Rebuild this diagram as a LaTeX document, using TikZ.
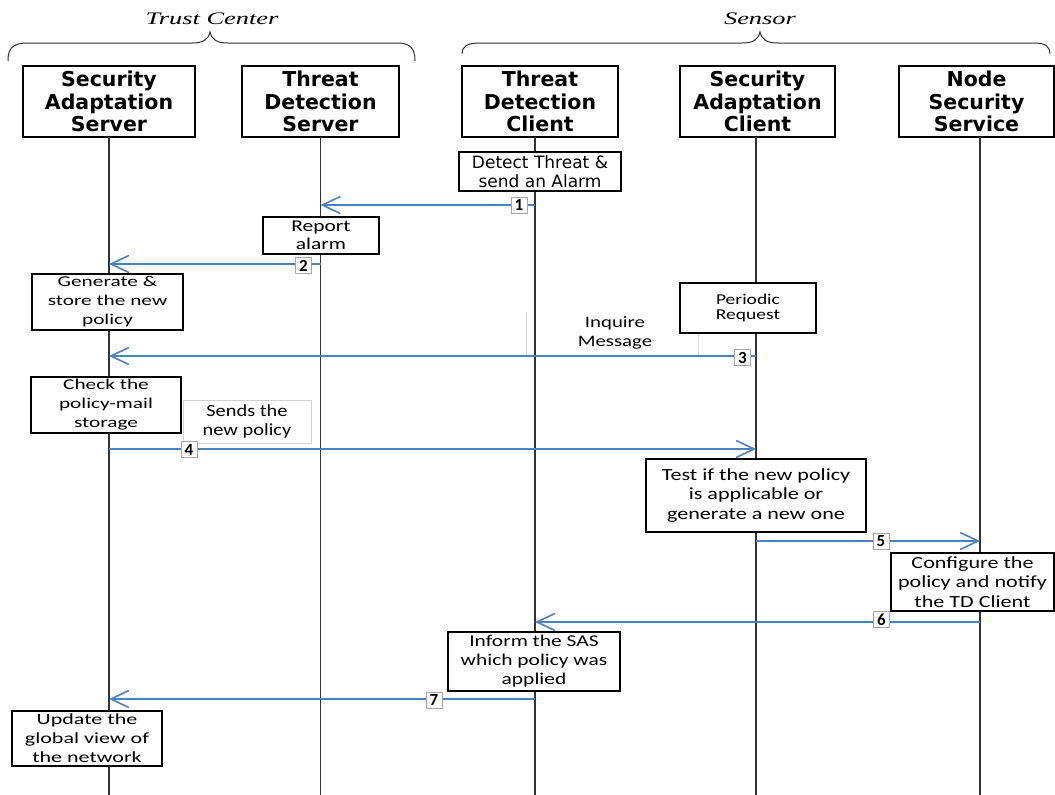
\documentclass[tikz,border=0pt]{standalone}
\usepackage{fontspec}
\setmainfont{Carlito}
\newfontfamily\dvf{DejaVu Sans}
\newfontfamily\calN{Carlito}
\newfontfamily\calS[FakeStretch=1.2]{Carlito}
\newfontfamily\calW[FakeStretch=1.3]{Carlito}
\newfontfamily\calX[FakeStretch=1.42]{Carlito}
\newfontfamily\tcf[FakeStretch=1.5]{Liberation Serif}
\usetikzlibrary{arrows.meta}
\definecolor{arrowblue}{HTML}{4F81BD}
\newcommand{\fsz}[2]{\fontsize{#1}{#2}\selectfont}
\begin{document}
\begin{tikzpicture}[x=1pt,y=-1pt,
  hdr/.style={draw=black, line width=1.5pt, fill=white, minimum height=71pt, inner sep=0pt, align=center, font=\dvf\bfseries\fsz{20.5}{22.3}},
  act/.style={draw=black, line width=1.2pt, fill=white, inner sep=0pt, align=center},
  lbl/.style={draw=black!18, line width=0.8pt, fill=white, inner sep=0pt, align=center},
  num/.style={draw=black!35, line width=0.8pt, fill=white, minimum width=16pt, minimum height=16pt, inner sep=0pt, font=\calN\bfseries\fsz{17}{17}},
  msg/.style={draw=arrowblue, line width=1.6pt, -{Straight Barb[length=18pt,width=17pt]}},
  life/.style={draw=black!80, line width=1.5pt},
  brace/.style={draw=black!80, line width=1pt},
  grp/.style={font=\tcf\itshape\fsz{17.6}{20}, inner sep=0pt, anchor=base}
]
\useasboundingbox (0,0) rectangle (1055,795);

% group labels and braces
\node[grp] (tc) at (212,24.3) {Trust Center};
\node[grp] (sen) at (760,24.3) {Sensor};
\draw[brace] (8,61) .. controls (8,48) and (13,43) .. (28,43) -- (192,43)
  .. controls (203,43) and (208,40) .. (210,32) .. controls (212,40) and (217,43) .. (228,43)
  -- (397,43) .. controls (410,43) and (415,48) .. (415,61);
\draw[brace] (462,54) .. controls (462,47) and (466,43) .. (480,43) -- (742,43)
  .. controls (753,43) and (758,40) .. (760,32) .. controls (762,40) and (767,43) .. (778,43)
  -- (1034,43) .. controls (1046,43) and (1050,47) .. (1050,54);

% headers
\node[hdr, minimum width=172pt] (sas) at (109,101.5) {Security\\Adaptation\\Server};
\node[hdr, minimum width=157pt] (tds) at (320.5,101.5) {Threat\\Detection\\Server};
\node[hdr, minimum width=156pt] (tdc) at (540,101.5) {Threat\\Detection\\Client};
\node[hdr, minimum width=155pt] (sac) at (757.5,101.5) {Security\\Adaptation\\Client};
\node[hdr, minimum width=155pt] (nss) at (976.5,101.5) {Node\\Security\\Service};

% lifelines
\coordinate (t1) at (109,137);  \coordinate (b1) at (109,795);
\coordinate (t2) at (320.5,137);\coordinate (b2) at (320.5,795);
\coordinate (t3) at (535,137);  \coordinate (b3) at (535,795);
\coordinate (t4) at (756,137);  \coordinate (b4) at (756,795);
\coordinate (t5) at (980,137);  \coordinate (b5) at (980,795);
\draw[life] (t1) -- (b1);
\draw[life] (t2) -- (b2);
\draw[life] (t3) -- (b3);
\draw[life] (t4) -- (b4);
\draw[life] (t5) -- (b5);

% activity boxes
\node[act, minimum width=162pt, minimum height=39pt, font=\dvf\fsz{17}{18.7}] (detect) at (540,171.5) {Detect Threat \&\\send an Alarm};
\node[act, minimum width=116pt, minimum height=37pt, font=\calW\fsz{16.5}{17.7}] (report) at (321,235.5) {Report\\alarm};
\node[act, minimum width=151pt, minimum height=56pt, font=\calX\fsz{15}{19}] (gen) at (107.5,302) {Generate \&\\store the new\\policy};
\node[act, minimum width=136pt, minimum height=50pt, font=\calW\fsz{15}{15.7}] (per) at (748,308) {Periodic\\Request};
\node[act, minimum width=150pt, minimum height=56pt, font=\calX\fsz{15}{19}] (check) at (106,405) {Check the\\policy-mail\\storage};
\node[lbl, minimum width=128pt, minimum height=43pt, font=\calS\fsz{17}{19}] (sends) at (247,421.5) {Sends the\\new policy};
\node[act, minimum width=220pt, minimum height=73pt, font=\calW\fsz{17}{19.5}] (test) at (756,495.5) {Test if the new policy\\is applicable or\\generate a new one};
\node[act, minimum width=163pt, minimum height=58pt, font=\calW\fsz{17}{19.3}] (conf) at (972.5,582) {Configure the\\policy and notify\\the TD Client};
\node[act, minimum width=172pt, minimum height=59pt, font=\calW\fsz{16.5}{19}] (inform) at (534,661.5) {Inform the SAS\\which policy was\\applied};
\node[act, minimum width=150pt, minimum height=55pt, font=\calX\fsz{15.5}{19}] (update) at (87,738.5) {Update the\\global view of\\the network};

% inquire message label (faint text box)
\coordinate (q1) at (526,312); \coordinate (q2) at (526,355);
\coordinate (q3) at (698,334); \coordinate (q4) at (698,355);
\draw[draw=black!15, line width=0.7pt] (q1) -- (q2);
\draw[draw=black!15, line width=0.7pt] (q3) -- (q4);
\node[inner sep=0pt, align=center, font=\calW\fsz{16}{18.5}] (inq) at (615,333) {Inquire\\Message};

% message rows
\coordinate (y1) at (0,205);
\coordinate (y2) at (0,264);
\coordinate (y3) at (0,356);
\coordinate (y4) at (0,449);
\coordinate (y5) at (0,541);
\coordinate (y6) at (0,622);
\coordinate (y7) at (0,699);

\draw[msg] (t3 |- y1) -- (t2 |- y1);
\draw[msg] (t2 |- y2) -- (t1 |- y2);
\draw[msg] (t4 |- y3) -- (t1 |- y3);
\draw[msg] (t1 |- y4) -- (t4 |- y4);
\draw[msg] (t4 |- y5) -- (t5 |- y5);
\draw[msg] (t5 |- y6) -- (t3 |- y6);
\draw[msg] (t3 |- y7) -- (t1 |- y7);

% number labels
\node[num] (n1) at (519,205) {1};
\node[num] (n2) at (303.5,265.5) {2};
\node[num] (n3) at (742.5,357.5) {3};
\node[num] (n4) at (189,449.5) {4};
\node[num] (n5) at (881,541.5) {5};
\node[num] (n6) at (881.5,619.5) {6};
\node[num] (n7) at (434,700) {7};
\end{tikzpicture}
\end{document}
